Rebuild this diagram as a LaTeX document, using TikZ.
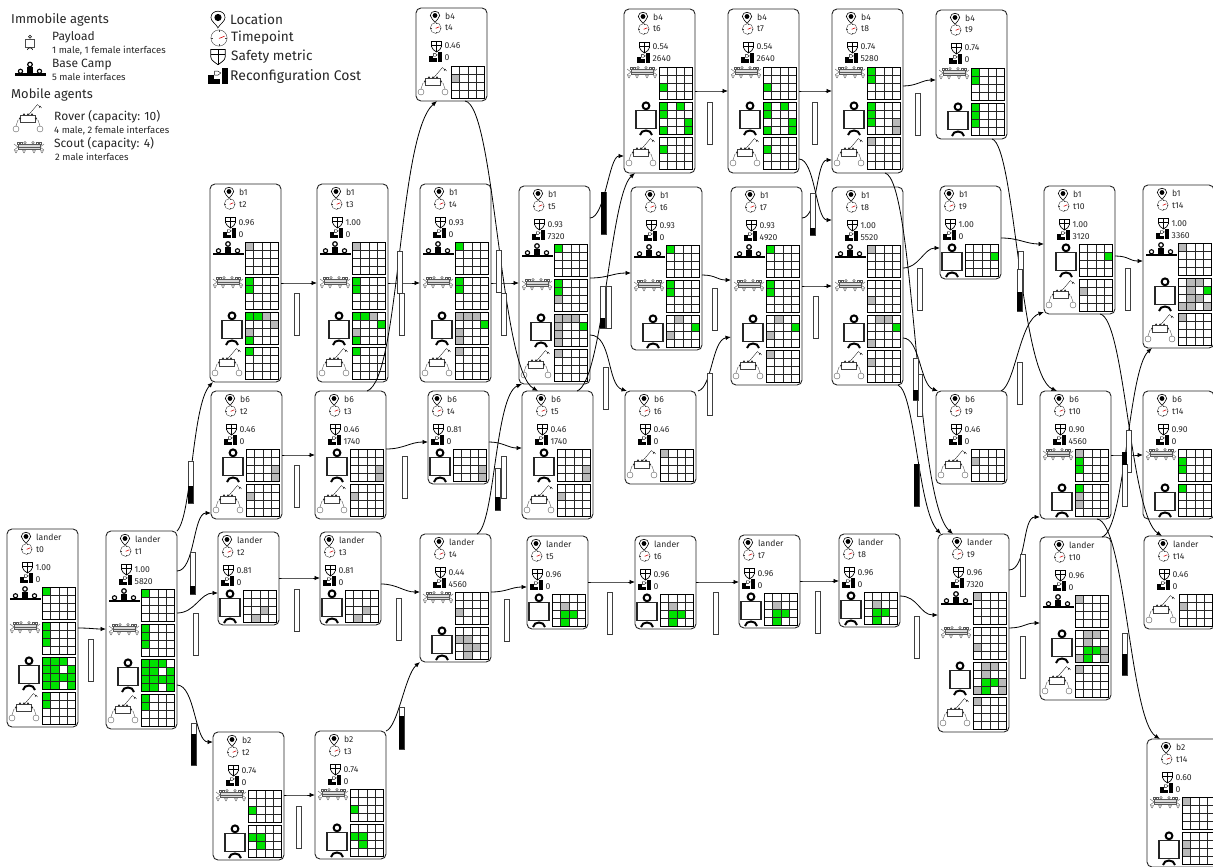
\documentclass[tikz,border=0pt]{standalone}
\usepackage{fontspec}
\setmainfont{Fira Sans}
\usetikzlibrary{arrows.meta}

\definecolor{cellgreen}{RGB}{0,225,0}
\definecolor{cellgray}{RGB}{185,185,185}

\tikzset{
    statebox/.style={draw=black!85, line width=0.9pt, rounded corners=5pt, fill=white, anchor=north west, inner sep=0pt, outer sep=0pt},
    cardtext/.style={anchor=base west, inner sep=0pt, text=black!85, font=\fontsize{8.6}{10}\selectfont},
    bigtext/.style={anchor=base west, inner sep=0pt, text=black!85, font=\fontsize{13.6}{15}\selectfont},
    smalltext/.style={anchor=base west, inner sep=0pt, text=black!85, font=\fontsize{9.5}{11}\selectfont},
    trans/.style={draw=black, line width=0.8pt, -{Latex[length=5.5pt,width=4.5pt]}},
    ringline/.style={line width=2pt},
    boxline/.style={line width=1.3pt, draw=black!85},
    wheelline/.style={line width=0.4pt, draw=black!65},
    barline/.style={draw=black!75, line width=0.8pt, fill=white}
}

% Small pictograms, drawn round their own origin
\newcommand{\pinicon}{%
    \draw[line width=0.6pt, fill=white] (0,5.8) .. controls (-1.5,3.2) and (-4.7,1.5) .. (-4.7,-1)
        .. controls (-4.7,-3.8) and (-2.3,-5.2) .. (0,-5.2) .. controls (2.3,-5.2) and (4.7,-3.8) .. (4.7,-1)
        .. controls (4.7,1.5) and (1.5,3.2) .. cycle;
    \fill (0,-1) circle (2.4pt);
}
\newcommand{\clockicon}{%
    \draw[line width=0.4pt, draw=black!75, fill=white] (0,0) circle (5.4pt);
    \draw[line width=0.4pt, draw=black!75] (0,-5.4) -- (0,-4.2) (0,5.4) -- (0,4.2) (-5.4,0) -- (-4.2,0) (5.4,0) -- (4.2,0);
    \draw[line width=0.6pt, draw=red!85!black] (0,0.3) -- (3.7,-1.2);
}
\newcommand{\shieldicon}{%
    \draw[line width=0.7pt, fill=white] (-5,-4.5) -- (5,-4.5) -- (5,0.5) .. controls (5,3) and (2,4.5) .. (0,6)
        .. controls (-2,4.5) and (-5,3) .. (-5,0.5) -- cycle;
    \draw[line width=0.7pt] (0,-4.5) -- (0,6) (-5,-0.8) -- (5,-0.8);
}
\newcommand{\costicon}{%
    \fill (-6.5,-1.5) rectangle (-2.7,4.5);
    \fill (-2.7,1) rectangle (1,4.5);
    \draw[line width=0.4pt] (-2.2,-3.8) -- (0,-3.8) -- (1.8,-2.6) -- (0,-1.2) -- (-2.2,-1.2) -- cycle;
    \fill (2.8,-5.5) rectangle (6.5,4.5);
}

% Agents, with x=0 in the middle of the picture and y=0 on top of its row
\newcommand{\baseicon}{%
    \draw[line width=1.2pt] (0,2) circle (2.3pt);
    \fill (-3,4.5) rectangle (3,11);
    \draw[line width=1.1pt] (-9.5,8.8) circle (2.1pt) (9.5,8.8) circle (2.1pt);
    \fill (-15.5,10.5) rectangle (15.5,13.3);
}
\newcommand{\scouticon}{%
    \draw[wheelline, fill=black!15] (-11,2.2) rectangle (11,7);
    \draw[wheelline] (-11,7) -- (11,7) (-11,5) -- (11,5);
    \draw[wheelline] (-4,0.8) circle (1.3pt) (4,0.8) circle (1.3pt);
    \draw[wheelline] (-12,0) rectangle (-10,2.5) (10,0) rectangle (12,2.5) (-9,0) rectangle (-7,2.5) (7,0) rectangle (9,2.5);
    \draw[wheelline] (-15,2) -- (-11,5) -- (-15,8) (15,2) -- (11,5) -- (15,8);
    \foreach \wx in {-13,-5,5,13} {\draw[wheelline] (\wx-1.5,8.5) -- (\wx+1.5,8.5) -- (\wx,11) -- cycle;}
}
\newcommand{\payloadicon}{%
    \draw[ringline] (0,3.8) circle (3.4pt);
    \draw[boxline, fill=white] (-10,8.7) rectangle (10,26.5);
    \draw[ringline] (-6,33) .. controls (-5,27) and (5,27) .. (6,33);
}
\newcommand{\rovericon}{%
    \draw[line width=0.45pt, draw=black!75, fill=white] (-7.5,12) rectangle (7.5,19);
    \draw[line width=0.3pt] (0.5,12) -- (9.5,1.5) -- (12,4) (11,5) -- (12,3) -- (13.5,5);
    \foreach \wx in {-4,0,4} {\draw[line width=0.3pt, fill=white] (\wx,11.5) circle (0.8pt);}
    \draw[line width=0.3pt, fill=white] (-8,15.5) circle (0.8pt) (8,15.5) circle (0.8pt);
    \draw[wheelline] (-7.5,17) -- (-10,17) -- (-12,23) (7.5,17) -- (10,17) -- (12,23);
    \draw[wheelline] (-12,26) circle (3pt) (12,26) circle (3pt);
}

% One card: name, left, top, width, height, location, time, safety, cost
\newcommand{\statecard}[9]{%
    \def\cardx{#2}\def\cardy{#3}\def\cardw{#4}%
    \node[statebox, minimum width=#4pt, minimum height=#5pt] (#1) at (#2,#3) {};
    \begin{scope}[shift={(#2+#4-71,#3)}]
        \begin{scope}[shift={(19,8.5)}]\pinicon\end{scope}
        \begin{scope}[shift={(19.7,20)}]\clockicon\end{scope}
        \begin{scope}[shift={(20.5,38)}]\shieldicon\end{scope}
        \begin{scope}[shift={(19.5,49.5)}]\costicon\end{scope}
        \node[cardtext] (#1-loc) at (29,11.5) {#6};
        \node[cardtext] (#1-time) at (29,23) {#7};
        \node[cardtext] (#1-safety) at (28.5,41) {#8};
        \node[cardtext] (#1-cost) at (28.5,53) {#9};
    \end{scope}
}

% One row of a card: icon, shift of the icon, row number, green cells, gray cells
\newcommand{\agentrow}[5]{%
    \begin{scope}[shift={(\cardx+\cardw-36,\cardy+58+35*#3)}]
        \begin{scope}[shift={(#2,0)}]#1\end{scope}
        \foreach \cc/\rr in {#4} {\fill[cellgreen] (0.5+\cc*8.25,0.5+\rr*8) rectangle +(8.25,8);}
        \foreach \cc/\rr in {#5} {\fill[cellgray] (0.5+\cc*8.25,0.5+\rr*8) rectangle +(8.25,8);}
        \foreach \ii in {1,2,3} {
            \draw[line width=0.9pt, draw=black!85] (0.5+\ii*8.25,0.5) -- (0.5+\ii*8.25,32.5);
            \draw[line width=0.9pt, draw=black!85] (0.5,0.5+\ii*8) -- (33.5,0.5+\ii*8);
        }
        \draw[line width=1.25pt] (0.5,0.5) rectangle (33.5,32.5);
    \end{scope}
}
\newcommand{\baserow}[3]{\agentrow{\baseicon}{-17}{#1}{#2}{#3}}
\newcommand{\scoutrow}[3]{\agentrow{\scouticon}{-17}{#1}{#2}{#3}}
\newcommand{\payloadrow}[3]{\agentrow{\payloadicon}{-13}{#1}{#2}{#3}}
\newcommand{\roverrow}[3]{\agentrow{\rovericon}{-18}{#1}{#2}{#3}}

% Connector that leaves a right side and enters a left side
\newcommand{\hop}[5]{\draw[trans] ([yshift=-#2pt]#1.north east) .. controls +(#5,0) and +(-#5,0) .. ([yshift=-#4pt]#3.north west);}

% Narrow gauge: left, top, filled part
\newcommand{\costbar}[3]{%
    \draw[barline] (#1,#2) rectangle +(5,42);
    \fill (#1,#2+42-42*#3) rectangle (#1+5,#2+42);
}

\begin{document}
\begin{tikzpicture}[x=1pt,y=-1pt]
    \useasboundingbox (0,0) rectangle (1213,867);

    % Legend
    \node[bigtext,font=\fontsize{12.9}{15}\selectfont] (immobile) at (11,24) {Immobile agents};
    \begin{scope}[shift={(30,35)},scale=0.45,ringline/.style={line width=0.6pt},boxline/.style={line width=0.4pt,draw=black!70}]\payloadicon\end{scope}
    \node[bigtext,font=\fontsize{12}{14}\selectfont] (payload) at (52,41) {Payload};
    \node[smalltext] (payload-note) at (52,53.5) {1 male, 1 female interfaces};
    \begin{scope}[shift={(30,62.5)}]\baseicon\end{scope}
    \node[bigtext,font=\fontsize{12}{14}\selectfont] (basecamp) at (52,68) {Base Camp};
    \node[smalltext] (basecamp-note) at (52,81) {5 male interfaces};
    \node[bigtext,font=\fontsize{12.9}{15}\selectfont] (mobile) at (11,99) {Mobile agents};
    \begin{scope}[shift={(28,103)}]\rovericon\end{scope}
    \node[bigtext,font=\fontsize{12}{14}\selectfont] (rover) at (54,120) {Rover (capacity: 10)};
    \begin{scope}
        \clip (50,120) rectangle (168,140);
        \node[smalltext] (rover-note) at (54,133.5) {4 male, 2 female interfaces};
    \end{scope}
    \begin{scope}[shift={(29,142)}]\scouticon\end{scope}
    \node[bigtext,font=\fontsize{12}{14}\selectfont] (scout) at (54,147.5) {Scout (capacity: 4)};
    \node[smalltext] (scout-note) at (55,160) {2 male interfaces};

    \begin{scope}[shift={(218,19)},scale=1.5]\pinicon\end{scope}
    \begin{scope}[shift={(219,38)},scale=1.5]\clockicon\end{scope}
    \begin{scope}[shift={(218,56)},scale=1.45]\shieldicon\end{scope}
    \begin{scope}[shift={(218,77)},scale=1.55]\costicon\end{scope}
    \node[bigtext] (location) at (230,25) {Location};
    \node[bigtext] (timepoint) at (231,42) {Timepoint};
    \node[bigtext] (safety) at (231,61) {Safety metric};
    \node[bigtext,font=\fontsize{14}{15}\selectfont] (reconf) at (230,81) {Reconfiguration Cost};

    % Cards at the lander
    \statecard{l0}{7}{529}{71}{198}{lander}{t0}{1.00}{0}
    \baserow{0}{0/0}{}
    \scoutrow{1}{0/0,0/1,0/2}{}
    \payloadrow{2}{0/0,1/0,2/0,0/1,1/1,3/1,0/2,1/2,2/2,3/2,0/3,1/3,3/3}{}
    \roverrow{3}{0/0,0/1}{}

    \statecard{l1}{106}{531}{71}{198}{lander}{t1}{1.00}{5820}
    \baserow{0}{0/0}{}
    \scoutrow{1}{0/0,0/1,0/2}{}
    \payloadrow{2}{0/0,1/0,2/0,0/1,1/1,3/1,0/2,1/2,2/2,3/2,0/3,1/3,3/3}{}
    \roverrow{3}{0/0,0/1}{}

    \statecard{l2}{218}{532}{61}{93}{lander}{t2}{0.81}{0}
    \payloadrow{0}{}{2/2,1/3}
    \statecard{l3}{320}{532}{61}{93}{lander}{t3}{0.81}{0}
    \payloadrow{0}{}{2/2,1/3}
    \statecard{l4}{420}{534}{71}{128}{lander}{t4}{0.44}{4560}
    \scoutrow{0}{}{0/2}
    \payloadrow{1}{}{0/1,1/1,1/2,2/2,1/3}
    \statecard{l5}{527}{536}{61}{93}{lander}{t5}{0.96}{0}
    \payloadrow{0}{1/2,2/2,1/3}{1/1}
    \statecard{l6}{635}{536}{61}{93}{lander}{t6}{0.96}{0}
    \payloadrow{0}{1/2,2/2,1/3}{1/1}
    \statecard{l7}{739}{535}{61}{93}{lander}{t7}{0.96}{0}
    \payloadrow{0}{1/2,2/2,1/3}{1/1}
    \statecard{l8}{839}{534}{61}{93}{lander}{t8}{0.96}{0}
    \payloadrow{0}{1/2,2/2,1/3}{1/1}

    \statecard{l9}{938}{534}{71}{198}{lander}{t9}{0.96}{7320}
    \baserow{0}{}{0/0}
    \scoutrow{1}{}{0/2}
    \payloadrow{2}{1/2,2/2,1/3}{1/0,2/0,1/1,3/2,0/3,3/3}
    \roverrow{3}{}{0/0}

    \statecard{l10}{1040}{537}{71}{163}{lander}{t10}{0.96}{0}
    \baserow{0}{}{0/0}
    \payloadrow{1}{1/2,2/2,1/3}{1/0,2/0,1/1,3/2,0/3,3/3}
    \roverrow{2}{}{0/0}

    \statecard{l14}{1144}{536}{71}{93}{lander}{t14}{0.46}{0}
    \roverrow{0}{}{0/1}

    % Cards at b1
    \statecard{b1t2}{210}{184}{71}{198}{b1}{t2}{0.96}{0}
    \baserow{0}{}{0/0}
    \scoutrow{1}{0/0,0/1}{}
    \payloadrow{2}{0/0,1/0,0/3}{2/0,3/1,0/2}
    \roverrow{3}{0/0}{}

    \statecard{b1t3}{317}{184}{71}{198}{b1}{t3}{1.00}{0}
    \baserow{0}{}{0/0}
    \scoutrow{1}{0/0,0/1}{}
    \payloadrow{2}{0/0,1/0,3/1,0/3}{2/0,0/2}
    \roverrow{3}{0/0}{}

    \statecard{b1t4}{420}{184}{71}{198}{b1}{t4}{0.93}{0}
    \baserow{0}{0/0}{}
    \scoutrow{1}{0/0,0/1}{}
    \payloadrow{2}{3/1}{0/0,1/0,2/0,0/2,0/3}
    \roverrow{3}{}{0/0}

    \statecard{b1t5}{519}{186}{71}{198}{b1}{t5}{0.93}{7320}
    \baserow{0}{0/0}{}
    \scoutrow{1}{0/0,0/1}{0/2}
    \payloadrow{2}{3/1}{0/0,1/0,2/0,0/1,0/2,0/3}
    \roverrow{3}{}{0/0}

    \statecard{b1t6}{631}{187}{71}{163}{b1}{t6}{0.93}{0}
    \baserow{0}{0/0}{}
    \scoutrow{1}{0/0,0/1}{}
    \payloadrow{2}{3/1}{1/0,0/2}

    \statecard{b1t7}{731}{187}{71}{198}{b1}{t7}{0.93}{4920}
    \baserow{0}{0/0}{}
    \scoutrow{1}{0/0,0/1}{}
    \payloadrow{2}{3/1}{1/0,0/2}
    \roverrow{3}{}{0/0}

    \statecard{b1t8}{832}{187}{71}{198}{b1}{t8}{1.00}{5520}
    \baserow{0}{}{0/0}
    \scoutrow{1}{}{0/2}
    \payloadrow{2}{3/1}{1/0,2/0,0/3}
    \roverrow{3}{}{0/1}

    \statecard{b1t9}{940}{186}{61}{93}{b1}{t9}{1.00}{0}
    \payloadrow{0}{3/1}{}

    \statecard{b1t10}{1044}{186}{71}{128}{b1}{t10}{1.00}{3120}
    \payloadrow{0}{3/1}{}
    \roverrow{1}{}{0/1}

    \statecard{b1t14}{1143}{185}{71}{163}{b1}{t14}{1.00}{3360}
    \baserow{0}{}{0/0}
    \payloadrow{1}{3/1}{1/0,2/0,1/1,1/2,2/2,0/3,1/3,3/3}
    \roverrow{2}{}{0/0}

    % Cards at b6
    \statecard{b6t2}{211}{391}{71}{128}{b6}{t2}{0.46}{0}
    \payloadrow{0}{}{3/2,3/3}
    \roverrow{1}{}{0/1}
    \statecard{b6t3}{315}{391}{71}{128}{b6}{t3}{0.46}{1740}
    \payloadrow{0}{}{3/2,3/3}
    \roverrow{1}{}{0/1}
    \statecard{b6t4}{428}{391}{61}{93}{b6}{t4}{0.81}{0}
    \payloadrow{0}{}{3/2,3/3}
    \statecard{b6t5}{522}{391}{71}{128}{b6}{t5}{0.46}{1740}
    \payloadrow{0}{}{3/2,3/3}
    \roverrow{1}{}{0/1}
    \statecard{b6t6}{625}{391}{71}{93}{b6}{t6}{0.46}{0}
    \roverrow{0}{}{0/0}
    \statecard{b6t9}{936}{391}{71}{93}{b6}{t9}{0.46}{0}
    \roverrow{0}{}{0/1}
    \statecard{b6t10}{1040}{391}{71}{128}{b6}{t10}{0.90}{4560}
    \scoutrow{0}{0/1,0/2}{0/0}
    \payloadrow{1}{0/0}{0/1,0/2}
    \statecard{b6t14}{1143}{391}{71}{128}{b6}{t14}{0.90}{0}
    \scoutrow{0}{0/1,0/2}{}
    \payloadrow{1}{0/0}{}

    % Cards at b2
    \statecard{b2t2}{213}{732}{71}{128}{b2}{t2}{0.74}{0}
    \scoutrow{0}{0/2}{}
    \payloadrow{1}{0/1,1/1,1/2}{}
    \statecard{b2t3}{315}{731}{71}{128}{b2}{t3}{0.74}{0}
    \scoutrow{0}{0/2}{}
    \payloadrow{1}{0/1,1/1,1/2}{}
    \statecard{b2t14}{1147}{739}{71}{128}{b2}{t14}{0.60}{0}
    \scoutrow{0}{}{0/0}
    \payloadrow{1}{}{0/1,0/2}

    % Cards at b4
    \statecard{b4t4}{416}{8}{71}{93}{b4}{t4}{0.46}{0}
    \roverrow{0}{}{0/1}
    \statecard{b4t6}{624}{9}{71}{164}{b4}{t6}{0.54}{2640}
    \scoutrow{0}{0/2}{}
    \payloadrow{1}{0/0,2/0,0/1,3/2,0/3,3/3}{}
    \roverrow{2}{0/1}{}
    \statecard{b4t7}{728}{9}{71}{164}{b4}{t7}{0.54}{2640}
    \scoutrow{0}{0/2}{}
    \payloadrow{1}{0/0,2/0,0/1,3/2,0/3,3/3}{}
    \roverrow{2}{0/1}{}
    \statecard{b4t8}{832}{9}{71}{164}{b4}{t8}{0.74}{5280}
    \scoutrow{0}{0/0,0/1}{}
    \payloadrow{1}{0/0,0/1,0/2}{3/2,3/3}
    \roverrow{2}{}{0/0}
    \statecard{b4t9}{936}{10}{71}{129}{b4}{t9}{0.74}{0}
    \scoutrow{0}{0/0,0/1}{}
    \payloadrow{1}{0/0,0/1,0/2}{}

    % Connectors from side to side
    \hop{l0}{99}{l1}{98}{12}
    \hop{l1}{40}{b6t2}{122}{18}
    \hop{l1}{82}{l2}{61}{18}
    \hop{l1}{154}{b2t2}{10}{18}
    \hop{b1t2}{99}{b1t3}{99}{12}
    \hop{b6t2}{64}{b6t3}{64}{12}
    \hop{b6t3}{58}{b6t4}{51}{18}
    \hop{l2}{46}{l3}{46}{12}
    \hop{l3}{52}{l4}{58}{16}
    \hop{b2t2}{63}{b2t3}{64}{12}
    \hop{b1t3}{99}{b1t4}{99}{12}
    \hop{b6t4}{51}{b6t5}{57}{14}
    \hop{l4}{58}{l5}{51}{16}
    \hop{l5}{46}{l6}{46}{12}
    \hop{l6}{46}{l7}{47}{12}
    \hop{l7}{46}{l8}{47}{12}
    \hop{l8}{62}{l9}{81}{18}
    \hop{b1t4}{99}{b1t5}{97}{12}
    \hop{b1t5}{32}{b4t6}{147}{15}
    \hop{b1t5}{92}{b1t6}{86}{18}
    \hop{b4t6}{82}{b4t7}{82}{12}
    \hop{b1t6}{88}{b1t7}{93}{14}
    \hop{b4t7}{82}{b4t8}{82}{12}
    \hop{b4t7}{150}{b1t8}{33}{16}
    \hop{b1t7}{31}{b4t8}{151}{16}
    \hop{b1t7}{99}{b1t8}{99}{12}
    \hop{b4t8}{77}{b4t9}{70}{14}
    \hop{b1t8}{81}{b1t9}{62}{16}
    \hop{b1t9}{52}{b1t10}{58}{18}
    \hop{b1t10}{70}{b1t14}{76}{14}
    \hop{b6t10}{64}{b6t14}{64}{12}
    \hop{l9}{36}{b6t10}{126}{18}
    \hop{l9}{94}{l10}{86}{14}

    % Connectors that leave or enter through a top or a bottom
    \draw[trans] (l1.north east) .. controls (192,516) and (192,405) .. ([xshift=3pt]b1t2.south west);
    \draw[trans] (b2t3.north east) .. controls (398,727) and (405,675) .. (l4.south west);
    \draw[trans] ([xshift=-19pt]b6t3.north east) .. controls (400,380) and (398,135) .. ([xshift=21pt]b4t4.south west);
    \draw[trans] ([xshift=49pt]b4t4.south west) .. controls (495,105) and (500,370) .. ([xshift=16pt]b6t5.north west);
    \draw[trans] ([xshift=57pt]l4.north west) .. controls (495,525) and (495,395) .. ([xshift=3pt]b1t5.south west);
    \draw[trans] ([xshift=55pt]b6t5.north west) .. controls (603,382) and (610,195) .. ([xshift=11pt]b4t6.south west);
    \draw[trans] ([yshift=-149pt]b1t5.north east) .. controls (612,335) and (607,385) .. ([xshift=2pt]b6t6.north west);
    \draw[trans] ([xshift=2pt]b6t6.north east) .. controls (712,388) and (712,340) .. ([yshift=-150pt]b1t7.north west);
    \draw[trans] ([yshift=-151pt]b1t8.north east) .. controls (920,338) and (920,385) .. ([xshift=2pt]b6t9.north west);
    \draw[trans] ([xshift=53pt]b4t8.south west) .. controls (915,180) and (915,500) .. ([xshift=15pt]l9.north west);
    \draw[trans] ([xshift=66pt]b1t8.south west) .. controls (915,392) and (918,510) .. ([xshift=3pt]l9.north west);
    \draw[trans] ([xshift=56pt]b4t9.south west) .. controls (1015,145) and (1020,375) .. ([xshift=17pt]b6t10.north west);
    \draw[trans] ([xshift=-6pt]b6t9.north east) .. controls (1015,385) and (1020,320) .. ([yshift=-126pt]b1t10.north west);
    \draw[trans] ([xshift=56pt]b1t10.south west) .. controls (1125,318) and (1130,515) .. ([xshift=18pt]l14.north west);
    \draw[trans] ([xshift=62pt]l10.north west) .. controls (1125,530) and (1128,370) .. ([xshift=9pt]b1t14.south west);
    \draw[trans] ([xshift=57pt]b6t10.south west) .. controls (1125,522) and (1130,720) .. ([xshift=13pt]b2t14.north west);

    % Gauges
    \foreach \bx/\by/\bf in {88/639/0, 188/461/0.4, 190/552/0.2, 193/613/0, 191/723/0.75, 294/293/0,
        399/293/0, 397/251/0, 294/465/0, 402/456/0, 294/589/0, 396/598/0, 399/707/0.78, 296/806/0,
        496/250/0, 501/293/0, 501/456/0, 495/468/0.3, 601/192/1, 606/286/0, 600/286/0.25, 603/367/0,
        504/599/0, 607/592/0, 713/592/0, 815/591/0, 914/616/0, 707/373/0, 712/288/0, 707/102/0,
        812/102/0, 810/193/0.17, 813/296/0, 915/93/0, 917/268/0, 917/374/0, 913/358/0.25, 914/464/1,
        1017/362/0, 1018/251/0, 1017/269/0.45, 1125/268/0, 1126/430/0, 1122/464/0, 1122/633/0.5,
        1020/554/0, 1020/636/0}
        {\costbar{\bx}{\by}{\bf}}
    \fill (1122,452) rectangle (1127,465);

\end{tikzpicture}
\end{document}
